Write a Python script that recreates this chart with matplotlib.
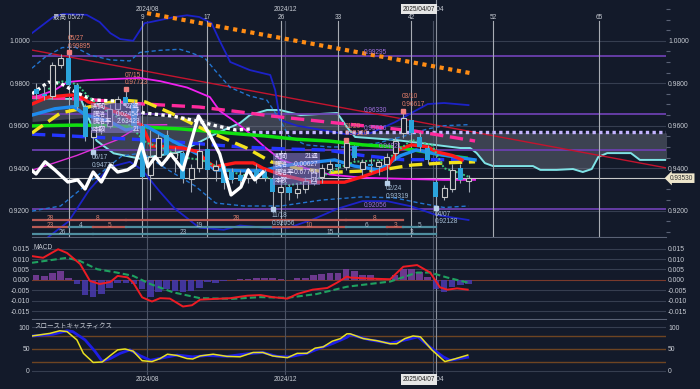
import numpy as np
import matplotlib.pyplot as plt

plt.rcParams['font.family'] = ['Liberation Sans', 'Noto Sans CJK JP']

BG = '#131a2a'
TXT = '#c8ccd4'
FS = 4.7

# ==========================================
# Weekly candles (index 0 = 2024/04/29)
# ==========================================

opens = [0.9775, 0.9750, 0.9738, 0.9885, 0.9920, 0.9790, 0.9690, 0.9545, 0.9580, 0.9600,
         0.9680, 0.9735, 0.9705, 0.9600, 0.9370, 0.9455, 0.9555, 0.9450, 0.9470, 0.9350,
         0.9400, 0.9490, 0.9390, 0.9410, 0.9380, 0.9370, 0.9355, 0.9390, 0.9380, 0.9350,
         0.9290, 0.9310, 0.9285, 0.9300, 0.9330, 0.9360, 0.9395, 0.9420, 0.9405, 0.9505,
         0.9395, 0.9420, 0.9410, 0.9420, 0.9470, 0.9566, 0.9627, 0.9545, 0.9494, 0.9335,
         0.9265, 0.9300, 0.9400, 0.9340]
highs = [0.9800, 0.9790, 0.9900, 0.9940, 0.9945, 0.9800, 0.9700, 0.9600, 0.9640, 0.9700,
         0.9740, 0.9772, 0.9720, 0.9610, 0.9580, 0.9560, 0.9580, 0.9500, 0.9480, 0.9420,
         0.9520, 0.9500, 0.9440, 0.9420, 0.9400, 0.9390, 0.9400, 0.9420, 0.9395, 0.9370,
         0.9340, 0.9320, 0.9330, 0.9360, 0.9395, 0.9420, 0.9440, 0.9440, 0.9532, 0.9510,
         0.9445, 0.9450, 0.9440, 0.9470, 0.9545, 0.9671, 0.9640, 0.9570, 0.9510, 0.9350,
         0.9320, 0.9420, 0.9420, 0.9370]
lows = [0.9725, 0.9720, 0.9725, 0.9870, 0.9780, 0.9680, 0.9530, 0.9478, 0.9560, 0.9590,
        0.9650, 0.9690, 0.9580, 0.9350, 0.9250, 0.9430, 0.9440, 0.9380, 0.9330, 0.9290,
        0.9380, 0.9370, 0.9340, 0.9300, 0.9330, 0.9320, 0.9330, 0.9330, 0.9340, 0.9206,
        0.9260, 0.9250, 0.9260, 0.9285, 0.9320, 0.9330, 0.9380, 0.9380, 0.9390, 0.9440,
        0.9370, 0.9380, 0.9370, 0.9332, 0.9440, 0.9540, 0.9560, 0.9480, 0.9420, 0.9213,
        0.9250, 0.9290, 0.9330, 0.9290]
closes = [0.9750, 0.9738, 0.9885, 0.9920, 0.9790, 0.9690, 0.9545, 0.9580, 0.9600, 0.9680,
          0.9725, 0.9705, 0.9600, 0.9360, 0.9455, 0.9540, 0.9460, 0.9470, 0.9350, 0.9400,
          0.9480, 0.9390, 0.9410, 0.9330, 0.9345, 0.9340, 0.9385, 0.9360, 0.9354, 0.9290,
          0.9310, 0.9285, 0.9300, 0.9340, 0.9380, 0.9400, 0.9420, 0.9405, 0.9520, 0.9450,
          0.9430, 0.9410, 0.9430, 0.9455, 0.9530, 0.9636, 0.9566, 0.9500, 0.9439, 0.9262,
          0.9305, 0.9392, 0.9345, 0.9353]

# ==========================================
# Indicator lines (bar index, price)
# ==========================================

bb2u_x = [-0.5, 2.1, 3.3, 6.2, 7.8, 9.1, 10.3, 11.9, 13.3, 14, 17, 18.5, 20, 21.5, 22.5,
          23.8, 26.2, 28.7, 29.3, 29.9, 32, 35, 38, 41, 44, 46, 48, 50, 53]
bb2u = [1.0036, 1.0112, 1.0126, 1.0122, 1.0088, 1.0036, 1.0008, 1.0000, 1.0083, 1.0088,
        1.0112, 1.0120, 1.0112, 1.0083, 1.0000, 0.9900, 0.9862, 0.9839, 0.9768, 0.9627,
        0.9600, 0.9580, 0.9560, 0.9565, 0.9617, 0.9660, 0.9702, 0.9707, 0.9697]

bb1u_x = [-0.5, 1.1, 3.2, 4.8, 6.6, 9.1, 11.5, 12.7, 15.2, 17.6, 18.9, 20.7, 21.9, 23.8,
          26.2, 28.3, 30, 31, 33, 36, 39, 42, 45, 48, 50, 53]
bb1u = [0.9871, 0.9923, 0.9968, 0.9970, 0.9933, 0.9910, 0.9905, 0.9945, 0.9955, 0.9960,
        0.9945, 0.9918, 0.9862, 0.9780, 0.9740, 0.9720, 0.9620, 0.9550, 0.9510, 0.9500,
        0.9500, 0.9520, 0.9550, 0.9585, 0.9600, 0.9605]

bb1l_x = [-0.5, 3, 7, 10.5, 13, 16, 19.5, 22, 25.5, 30, 35, 40, 44, 47, 50, 53]
bb1l = [0.9198, 0.9222, 0.9349, 0.9457, 0.9472, 0.9396, 0.9316, 0.9236, 0.9222, 0.9222,
        0.9250, 0.9265, 0.9260, 0.9236, 0.9215, 0.9222]

bb2l_x = [0, 1.5, 4, 6.5, 9, 11.5, 13, 15, 17, 20, 23, 25, 28, 31, 34, 37, 40, 43, 46, 49, 53]
bb2l = [0.9030, 0.9076, 0.9150, 0.9297, 0.9405, 0.9430, 0.9392, 0.9297, 0.9210, 0.9120,
        0.9110, 0.9130, 0.9120, 0.9120, 0.9160, 0.9210, 0.9245, 0.9245, 0.9220, 0.9180, 0.9156]

mag_x = [-0.5, 2.3, 3.8, 6.3, 12.7, 15.2, 18.5, 21.3, 22.5, 24.1, 26, 28, 30, 33, 36, 40, 45, 50, 53.8]
mag = [0.9730, 0.9768, 0.9805, 0.9815, 0.9825, 0.9810, 0.9780, 0.9735, 0.9670, 0.9627,
       0.9570, 0.9500, 0.9440, 0.9400, 0.9370, 0.9355, 0.9350, 0.9345, 0.9345]

mag2_x = [-0.5, 5, 9.9, 12.9, 16]
mag2 = [0.9390, 0.9460, 0.9533, 0.9603, 0.9605]

red_x = [-0.5, 1.5, 4, 5.2, 6.4, 7.2, 9, 11, 13, 14.1, 16.2, 18, 19.9, 20.7, 21.9, 24.4,
         26.6, 27.8, 30, 33.8, 37.8, 40, 43, 44.4, 46, 48, 49.1, 51, 52.2]
red = [0.9702, 0.9735, 0.9744, 0.9744, 0.9712, 0.9702, 0.9674, 0.9650, 0.9600, 0.9505,
       0.9500, 0.9495, 0.9477, 0.9439, 0.9406, 0.9425, 0.9425, 0.9400, 0.9370, 0.9334,
       0.9334, 0.9360, 0.9400, 0.9486, 0.9510, 0.9500, 0.9477, 0.9460, 0.9439]

blue_x = [-0.5, 2.3, 4.6, 6.1, 9, 11, 13.4, 16.5, 20.2, 21.9, 26, 28, 30, 32, 36.6, 39,
          42, 44.6, 46.6, 49, 53.8]
blue = [0.9650, 0.9680, 0.9690, 0.9650, 0.9620, 0.9580, 0.9600, 0.9533, 0.9458, 0.9392,
        0.9387, 0.9390, 0.9410, 0.9420, 0.9439, 0.9410, 0.9392, 0.9458, 0.9486, 0.9467, 0.9439]

blued_x = [-0.5, 2.5, 15, 25, 31, 35.5, 40, 45, 50, 53.8]
blued = [0.9560, 0.9555, 0.9530, 0.9500, 0.9490, 0.9486, 0.9460, 0.9440, 0.9440, 0.9440]

green_x = [-0.5, 5, 9, 13, 17.7, 22.3, 25, 28, 32, 35.9, 40, 44.1, 47, 50, 52.7]
green = [0.9599, 0.9603, 0.9600, 0.9594, 0.9585, 0.9570, 0.9561, 0.9552, 0.9536, 0.9528,
         0.9510, 0.9500, 0.9481, 0.9462, 0.9448]

pink_x = [-0.5, 6, 12, 20, 25, 29, 35.8, 46.4, 53.8]
pink = [0.9735, 0.9725, 0.9705, 0.9688, 0.9665, 0.9645, 0.9617, 0.9575, 0.9528]

yel_x = [-0.5, 0, 3.0, 6.4, 10.4, 13.4, 16.5, 20.7, 25.8, 28.8, 32, 36, 42, 46.1, 50.1, 53.8]
yel = [0.9565, 0.9580, 0.9660, 0.9688, 0.9721, 0.9712, 0.9660, 0.9580, 0.9495, 0.9430,
       0.9400, 0.9380, 0.9390, 0.9415, 0.9425, 0.9430]

wdot_x = [-0.5, 1.5, 3.0, 5.0, 7.0, 10.0, 13.2, 16.8, 20.0, 22.0, 24.5, 26.5]
wdot = [0.9750, 0.9805, 0.9800, 0.9755, 0.9721, 0.9716, 0.9660, 0.9645, 0.9620, 0.9600,
        0.9580, 0.9585]

gdot_x = [1.5, 3, 5, 6.6, 9, 11, 13.5, 15.5, 18, 20.2, 22, 25, 28, 31, 34, 37, 39, 43,
          46, 48.5, 50, 51.5, 53]
gdot = [0.9772, 0.9810, 0.9796, 0.9730, 0.9660, 0.9620, 0.9520, 0.9495, 0.9450, 0.9440,
        0.9410, 0.9370, 0.9360, 0.9320, 0.9340, 0.9400, 0.9430, 0.9440, 0.9533, 0.9510,
        0.9400, 0.9382, 0.9360]

# Ichimoku cloud spans
spanA_x = [-0.5, 5.5, 6.8, 7.4, 9.5, 12.7, 17.6, 22.2, 25, 26.2, 28.3, 29.9, 32.4, 36.9,
           38.1, 39.1, 44, 50.1, 52, 53.2, 54, 55, 56, 60.9, 61.8, 63.8, 65.8, 67, 68.1,
           68.9, 70, 72.9, 74, 77.3]
spanA = [0.9730, 0.9725, 0.9600, 0.9530, 0.9470, 0.9445, 0.9476, 0.9566, 0.9613, 0.9650,
         0.9674, 0.9674, 0.9650, 0.9660, 0.9594, 0.9547, 0.9533, 0.9504, 0.9495, 0.9495,
         0.9471, 0.9424, 0.9410, 0.9410, 0.9392, 0.9392, 0.9396, 0.9382, 0.9396, 0.9453,
         0.9471, 0.9471, 0.9439, 0.9439]
spanB_x = [-0.5, 10, 20, 25, 38, 40, 77.3]
spanB = [0.9620, 0.9650, 0.9640, 0.9580, 0.9580, 0.9570, 0.9566]

# Chikou span
chikou_x = [-0.6, 0, 1.1, 2.3, 3.9, 5.1, 6, 7, 8, 9.1, 10, 11.2, 12.1, 12.9, 13.7, 14.6,
            15.4, 16.5, 18, 19.9, 21.3, 22.5, 23.9, 25.1, 26, 26.8, 27.8]
chikou = [0.9392, 0.9373, 0.9430, 0.9392, 0.9335, 0.9345, 0.9302, 0.9382, 0.9335, 0.9415,
          0.9382, 0.9392, 0.9415, 0.9514, 0.9406, 0.9453, 0.9415, 0.9467, 0.9392, 0.9646,
          0.9557, 0.9467, 0.9274, 0.9311, 0.9392, 0.9345, 0.9382]

# Trend lines
orange_x = [13.6, 53.2]
orange = [1.0130, 0.9848]
redtl_x = [-0.5, 77.3]
redtl = [0.99562, 0.9401]

# Horizontal levels
purple_levels = [0.99295, 0.9655, 0.9486, 0.92056]
purple_labels = ['0.99295', '0.96330', '0.94821', '0.92056']
dotted_level = 0.9572
dotted_label = '0.95626'
last_price = 0.93530

# Swing labels
high_idx = [4, 11, 38, 45]
high_txt = ['05/27\n0.99895', '07/15\n0.97723', '01/20\n0.95120', '03/10\n0.96617']
low_idx = [7, 29, 43, 49]
low_txt = ['06/17\n0.94773', '11/18\n0.92056', '02/24\n0.93319', '04/07\n0.92128']

# Range info boxes
box_names = ['期間', '騰落', '騰落率', '本数']
box1_vals = ['27週', '0.02454', '2.63423', '21']
box2_vals = ['21週', '-0.00627', '-0.67761', '21']

# Wave count rows
row1_b = [-0.5, 4, 11, 38, 45]
row1_l = ['28', '8', '28', '8']
row2_b = [-0.5, 4, 7, 11, 29, 38, 43, 45, 49]
row2_l = ['23', '4', '5', '19', '10', '6', '3', '5']
row3_b = [-0.5, 7, 29, 43, 49]
row3_l = ['26', '23', '15', '3']

# Bar-count markers
count_idx = [13, 21, 30, 37, 46, 56, 69]
count_lbl = ['9', '17', '26', '33', '42', '52', '65']
month_idx = [13.6, 30.5, 48.6]
month_lbl = ['2024/08', '2024/12', '2025/04']
cross_idx = 49

# ==========================================
# MACD
# ==========================================

macd_x = [-0.5, 0.86, 2.7, 3.8, 5.4, 6.6, 7.8, 9.1, 10.0, 11.2, 11.9, 13.0, 14.2, 15.2,
          16.4, 18.0, 19.1, 20.1, 21.7, 23.8, 25.9, 27.5, 29.0, 30.8, 32.0, 33.9, 35.7,
          36.9, 38.1, 38.5, 40.9, 43.4, 45.0, 46.7, 48.3, 49.5, 50.4, 51.6, 52.9]
macd = [0.0114, 0.0106, 0.0147, 0.0129, 0.0076, -0.0005, -0.0020, -0.0010, 0.0019, 0.0012,
        -0.0013, -0.0084, -0.0104, -0.0088, -0.0090, -0.0128, -0.0122, -0.0095, -0.0092,
        -0.0088, -0.0076, -0.0073, -0.0083, -0.0090, -0.0068, -0.0047, -0.0039, -0.0013,
        0.0016, 0.0011, 0.0006, 0.0003, 0.0063, 0.0071, 0.0035, -0.0036, -0.0047, -0.0041,
        -0.0047]
signal_x = [-0.5, 3.8, 5.4, 7.5, 9.9, 11.9, 14.0, 16.8, 20.1, 24.1, 27.5, 30.8, 34.4, 38.1,
            43.4, 46.7, 48.3, 50.4, 52.9]
signal = [0.0082, 0.0106, 0.0090, 0.0051, 0.0035, 0.0019, -0.0020, -0.0060, -0.0088,
          -0.0091, -0.0083, -0.0086, -0.0068, -0.0033, -0.0008, 0.0035, 0.0035, 0.0011, -0.0013]
hist = [0.0024, 0.0017, 0.0032, 0.0043, 0.0011, -0.0020, -0.0073, -0.0084, -0.0068, -0.0039,
        -0.0013, -0.0013, -0.0020, -0.0044, -0.0084, -0.0060, -0.0044, -0.0052, -0.0057, -0.0052,
        -0.0041, -0.0010, -0.0013, -0.0004, -0.0002, 0.0002, 0.0004, 0.0011, 0.0011, 0.0008,
        0.0002, -0.0002, 0.0008, 0.0008, 0.0024, 0.0027, 0.0032, 0.0032, 0.0050, 0.0043,
        0.0024, 0.0021, 0.0008, 0.0003, 0.0024, 0.0052, 0.0052, 0.0040, 0.0013, -0.0044,
        -0.0057, -0.0033, -0.0025, -0.0020]

# ==========================================
# Slow stochastics
# ==========================================

stk_x = [-0.5, 1.7, 2.9, 3.8, 5.0, 5.8, 7.0, 8.1, 9.1, 10.0, 10.9, 11.9, 13.0, 14.2, 15.2,
         16.1, 17.3, 18.5, 19.2, 20.1, 21.7, 23.4, 25.0, 26.6, 27.8, 29.0, 30.8, 32.0, 33.2,
         34.2, 35.2, 36.3, 37.3, 38.1, 38.5, 40.1, 41.8, 43.4, 44.2, 45.2, 46.2, 47.1, 48.5,
         50.1, 51.1, 52.9]
stk = [80, 86, 92, 90, 71, 40, 19, 20, 35, 48, 50, 45, 23, 21, 28, 38, 35, 28, 27, 34, 38,
       33, 32, 42, 42, 34, 30, 40, 40, 52, 55, 68, 74, 85, 85, 74, 69, 62, 62, 74, 80, 78, 48,
       21, 26, 36]
std_x = [-0.5, 2.1, 3.8, 4.5, 6.0, 7.2, 8.1, 9.1, 10.3, 11.5, 12.7, 14.0, 15.6, 17.3, 19.2,
         21.0, 23.4, 25.9, 27.8, 29.5, 31.1, 33.2, 34.8, 36.4, 38.1, 38.5, 40.9, 43.4, 45.5,
         46.8, 48.3, 49.9, 50.7, 52.9]
std = [80, 84, 92, 90, 71, 45, 22, 28, 40, 48, 35, 24, 30, 36, 32, 35, 33, 39, 42, 33, 32,
       40, 52, 63, 77, 83, 71, 63, 72, 78, 54, 32, 24, 31]

# ==========================================
# Figure
# ==========================================

fig = plt.figure(figsize=(7, 3.89), dpi=100, facecolor=BG)
ax = fig.add_axes([32 / 700, 1 - 237 / 389, 634 / 700, 237 / 389])
ax2 = fig.add_axes([32 / 700, 1 - 319 / 389, 634 / 700, 81 / 389])
ax3 = fig.add_axes([32 / 700, 1 - 375 / 389, 634 / 700, 55 / 389])

XMIN, XMAX = -0.5, 77.2
for a in (ax, ax2, ax3):
    a.set_facecolor(BG)
    a.set_xlim(XMIN, XMAX)
    a.set_xticks([])
    for s in a.spines.values():
        s.set_visible(False)
    a.tick_params(axis='y', which='major', length=0, labelleft=True, labelright=True,
                  labelsize=FS + 0.2, labelcolor=TXT, pad=1.5)

ax.spines['bottom'].set_visible(True)
ax.spines['bottom'].set_color('#5a6275')
ax2.spines['bottom'].set_visible(True)
ax2.spines['bottom'].set_color('#5a6275')

# ------------------------------------------
# Main panel
# ------------------------------------------

ax.set_ylim(0.9076, 1.0192)
price_ticks = [0.92, 0.94, 0.96, 0.98, 1.00]
ax.set_yticks(price_ticks)
ax.set_yticklabels([f'{t:.4f}' for t in price_ticks])
ax.set_yticks(np.arange(0.910, 1.0151, 0.005), minor=True)
ax.tick_params(axis='y', which='minor', left=False, right=True, length=3,
               color='#5a6275', width=0.8)
for t in price_ticks:
    ax.axhline(t, color='#363e50', lw=0.8, zorder=0)

# cloud
grid_x = np.linspace(-0.5, 77.3, 400)
ax.fill_between(grid_x, np.interp(grid_x, spanA_x, spanA), np.interp(grid_x, spanB_x, spanB),
                color='#8a8f9c', alpha=0.35, lw=0, zorder=1)
ax.plot(spanA_x, spanA, color='#7fe3e6', lw=1.4, zorder=2)

# horizontal levels
for lv in purple_levels:
    ax.axhline(lv, color='#6b3fae', lw=1.3, zorder=2)
lbl_pos = [40.1, 40.1, 42.0, 40.1]
for lv, lb, px in zip(purple_levels, purple_labels, lbl_pos):
    ax.text(px, lv + 0.0010, lb, color='#a070e0', fontsize=FS, zorder=7)
ax.plot([26.5, XMAX], [dotted_level, dotted_level], color='#c4b4ff', lw=2.4,
        ls=(0, (1, 1)), zorder=3)
ax.text(40.1, dotted_level + 0.0007, dotted_label, color='#a070e0', fontsize=FS, zorder=7)
ax.axhline(last_price, color='#c8c8c8', lw=0.8, zorder=2)

# trend lines
ax.plot(redtl_x, redtl, color='#c4142e', lw=1.0, zorder=2)
ax.plot(orange_x, orange, color='#ff8c14', lw=3, ls=(0, (1, 1.1)), zorder=3)

# bollinger
ax.plot(bb2u_x, bb2u, color='#1c22c8', lw=1.3, zorder=2)
ax.plot(bb2l_x, bb2l, color='#1c22c8', lw=1.3, zorder=2)
ax.plot(bb1u_x, bb1u, color='#2274d0', lw=1.0, ls=(0, (3, 2)), zorder=2)
ax.plot(bb1l_x, bb1l, color='#2274d0', lw=1.0, ls=(0, (3, 2)), zorder=2)

# moving averages
ax.plot(mag2_x, mag2, color='#e030d8', lw=1.0, zorder=3)
ax.plot(mag_x, mag, color='#f020f0', lw=1.3, zorder=3)
ax.plot(green_x, green, color='#10e010', lw=2.5, zorder=3)
ax.plot(pink_x, pink, color='#ff2a9c', lw=2.4, ls=(0, (4, 2)), zorder=3)
ax.plot(blued_x, blued, color='#2436ff', lw=2.4, ls=(0, (4, 2)), zorder=3)
ax.plot(yel_x, yel, color='#f2e21c', lw=2.4, ls=(0, (4, 2)), zorder=3)
ax.plot(blue_x, blue, color='#1e8cf0', lw=2.4, zorder=3)
ax.plot(red_x, red, color='#ff1a1a', lw=2.4, zorder=3)
ax.plot(wdot_x, wdot, color='#ffffff', lw=2.4, ls=(0, (1, 1)), zorder=3)
ax.plot(gdot_x, gdot, color='#40c880', lw=1.4, ls=(0, (1, 1)), zorder=3)

# candles
idx = np.arange(len(closes))
o = np.array(opens)
c = np.array(closes)
up = c >= o
ax.vlines(idx, lows, highs, color='#a0a8b4', lw=0.8, zorder=4)
ax.bar(idx[up], (c - o)[up], bottom=o[up], width=0.62, facecolor=BG,
       edgecolor='#c8c8c8', lw=0.8, zorder=4.2)
ax.bar(idx[~up], (o - c)[~up], bottom=c[~up], width=0.62, color='#2ba4dc', zorder=4.2)

# chikou
ax.plot(chikou_x, chikou, color='#ffffff', lw=2.4, zorder=5)

# swing labels
for i, t in zip(high_idx, high_txt):
    ax.plot(i, highs[i], 's', ms=2.5, color='#f08080', zorder=6)
    ax.annotate(t, (i, highs[i]), xytext=(-1, 2), textcoords='offset points',
                ha='left', va='bottom', fontsize=FS, color='#e8806c', linespacing=1.1, zorder=7)
for i, t in zip(low_idx, low_txt):
    ax.plot(i, lows[i], 's', ms=2.5, color='#b8d0ea', zorder=6)
    ax.annotate(t, (i, lows[i]), xytext=(-1, -2), textcoords='offset points',
                ha='left', va='top', fontsize=FS, color='#a8c0d8', linespacing=1.1, zorder=7)

# info boxes
def info_box(x0, x1, top, bottom, vals):
    ax.fill_between([x0, x1], bottom, top, color='#8a7ad0', alpha=0.55, lw=0, zorder=6)
    rows = np.linspace(top, bottom, 5)
    step = rows[0] - rows[1]
    for k, (n, v) in enumerate(zip(box_names, vals)):
        yy = rows[k] - step / 2
        ax.text(x0 + 0.3, yy, n, fontsize=FS, color='#e4dcff', va='center', zorder=7)
        ax.text(x1 - 0.2, yy, v, fontsize=FS, color='#e4dcff', va='center', ha='right', zorder=7)

info_box(6.7, 12.9, 0.9707, 0.9566, box1_vals)
info_box(29.0, 34.8, 0.9472, 0.9321, box2_vals)

# wave count rows
def count_row(bounds, labels, yv, colors, tcolors):
    for k in range(len(labels)):
        x0, x1 = bounds[k], bounds[k + 1]
        ax.plot([x0, x1], [yv, yv], color=colors[k % len(colors)], lw=1.6, zorder=3)
        ax.text((x0 + x1) / 2, yv + 0.0008, labels[k], fontsize=FS, ha='center',
                va='center', color=tcolors[k % len(tcolors)], zorder=7)

count_row(row1_b, row1_l, 0.9155, ['#b85a55'], ['#d88070'])
count_row(row2_b, row2_l, 0.9122, ['#b85a55', '#4f8ea0'], ['#d88070', '#a8bccc'])
count_row(row3_b, row3_l, 0.9089, ['#4f8ea0'], ['#a8bccc'])

# vertical markers
tr = ax.get_xaxis_transform()
ax.axvline(4, ymax=0.91, color='#a8acb4', lw=0.8, zorder=2)
ax.text(4, 0.928, '最高 05/27', transform=tr, ha='center', va='center', fontsize=FS, color=TXT)
for i, lb in zip(count_idx, count_lbl):
    ax.axvline(i, ymax=0.91, color='#a8acb4', lw=0.8, zorder=2)
    ax.text(i, 0.928, lb, transform=tr, ha='center', va='center', fontsize=FS, color=TXT)
for i, lb in zip(month_idx, month_lbl):
    ax.axvline(i, ymax=0.91, color='#4a5264', lw=0.8, zorder=1)
    ax.text(i, 0.962, lb, transform=tr, ha='center', va='center', fontsize=FS, color=TXT)
ax.axvline(cross_idx, color='#8a909c', lw=0.8, zorder=2)
ax.text(46.9, 0.962, '2025/04/07', transform=tr, ha='center', va='center', fontsize=FS,
        color='#202020', bbox=dict(boxstyle='square,pad=0.3', fc='#e6e6e6', ec='none'), zorder=8)

# price tag
ax.text(1.006, last_price, '0.93530', transform=ax.get_yaxis_transform(), fontsize=FS,
        color='#303030', va='center', ha='left',
        bbox=dict(boxstyle='larrow,pad=0.2', fc='#eee6cc', ec='none'))

# ------------------------------------------
# MACD panel
# ------------------------------------------

ax2.set_ylim(-0.0188, 0.0201)
macd_ticks = [0.015, 0.010, 0.005, 0.0, -0.005, -0.010, -0.015]
ax2.set_yticks(macd_ticks)
ax2.set_yticklabels([f'{t:.3f}' if t != 0 else '0.000' for t in macd_ticks])
for t in macd_ticks:
    ax2.axhline(t, color='#7a3a2c' if t == 0 else '#363e50', lw=0.8, zorder=0)
hcol = ['#7c3fa0' if h >= 0 else '#4a3ab0' for h in hist]
ax2.bar(idx, hist, width=0.8, color=hcol, alpha=0.85, zorder=2)
ax2.plot(signal_x, signal, color='#1fa060', lw=1.5, ls=(0, (3, 1.5)), zorder=3)
ax2.plot(macd_x, macd, color='#ee1c24', lw=1.4, zorder=4)
ax2.text(0.003, 0.93, 'MACD', transform=ax2.transAxes, fontsize=FS, color=TXT, va='top')
for i in month_idx:
    ax2.axvline(i, color='#4a5264', lw=0.8, zorder=1)
ax2.axvline(cross_idx, color='#8a909c', lw=0.8, zorder=1)

# ------------------------------------------
# Stochastics panel
# ------------------------------------------

ax3.set_ylim(-9.9, 116.8)
ax3.set_yticks([0, 50, 100])
ax3.set_yticklabels(['0', '50', '100'])
for t in [0, 100]:
    ax3.axhline(t, color='#363e50', lw=0.8, zorder=0)
for t in [20, 50, 80]:
    ax3.axhline(t, color='#6e4422', lw=1.0, zorder=0)
ax3.plot(std_x, std, color='#1e1ee6', lw=2.0, zorder=2)
ax3.plot(stk_x, stk, color='#e8e020', lw=1.1, zorder=3)
ax3.text(0.003, 0.89, 'スローストキャスティクス', transform=ax3.transAxes, fontsize=FS,
         color=TXT, va='center')
for i in month_idx:
    ax3.axvline(i, color='#4a5264', lw=0.8, zorder=1)
ax3.axvline(cross_idx, color='#8a909c', lw=0.8, zorder=1)

tr3 = ax3.get_xaxis_transform()
for i, lb in zip(month_idx, month_lbl):
    ax3.text(i, -0.09, lb, transform=tr3, ha='center', va='center', fontsize=FS,
             color=TXT, clip_on=False)
ax3.text(46.9, -0.09, '2025/04/07', transform=tr3, ha='center', va='center', fontsize=FS,
         color='#202020', bbox=dict(boxstyle='square,pad=0.3', fc='#e6e6e6', ec='none'),
         clip_on=False, zorder=8)

fig.savefig('out.png', dpi=100, facecolor=BG)
